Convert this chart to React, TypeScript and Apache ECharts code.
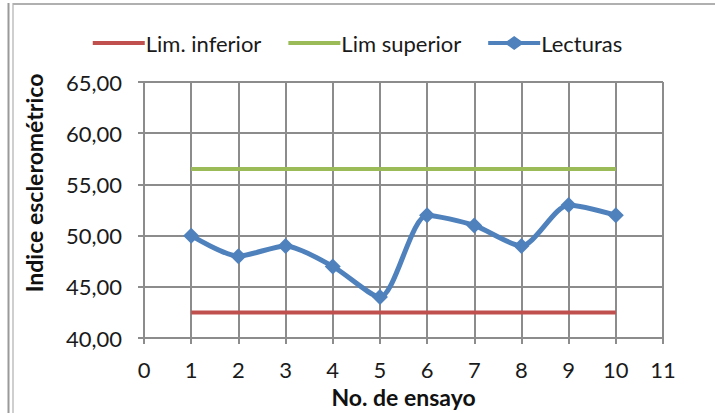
import React, { useEffect, useRef } from "react";
import * as echarts from "echarts";

const ensayos = [1, 2, 3, 4, 5, 6, 7, 8, 9, 10];
const limInferior = [42.5, 42.5, 42.5, 42.5, 42.5, 42.5, 42.5, 42.5, 42.5, 42.5];
const limSuperior = [56.5, 56.5, 56.5, 56.5, 56.5, 56.5, 56.5, 56.5, 56.5, 56.5];
const lecturas = [50, 48, 49, 47, 44, 52, 51, 49, 53, 52];
const seriesNames = ["Lim. inferior", "Lim superior", "Lecturas"];
const xTitle = "No. de ensayo";
const yTitle = "Indice esclerométrico";

const FONT = "Lato";
const LINE_ICON = "path://M0,0 M52,14 M0,5 L52,5 L52,9 L0,9 Z";
const DIAMOND_ICON =
  "path://M0,0 M52,14 M0,5 L19,5 L26,0 L33,5 L52,5 L52,9 L33,9 L26,14 L19,9 L0,9 Z";

export default function App() {
  const ref = useRef<HTMLDivElement>(null);
  useEffect(() => {
    if (!ref.current) return;
    const chart = echarts.init(ref.current, null, { renderer: "svg" });
    const pair = (vals: number[]) => ensayos.map((x, i) => [x, vals[i]]);
    chart.setOption({
      animation: false,
      backgroundColor: "#ffffff",
      textStyle: { fontFamily: FONT },
      graphic: [
        { type: "line", shape: { x1: 8.5, y1: 3, x2: 8.5, y2: 413 }, style: { stroke: "#9a9a9a", lineWidth: 2 } },
        { type: "line", shape: { x1: 13, y1: 3, x2: 13, y2: 413 }, style: { stroke: "#cfcfcf", lineWidth: 2 } },
        { type: "line", shape: { x1: 13, y1: 4, x2: 715, y2: 4 }, style: { stroke: "#b0b0b0", lineWidth: 2 } },
        {
          type: "text",
          x: 34,
          y: 183,
          rotation: Math.PI / 2,
          style: {
            text: yTitle,
            fontFamily: FONT,
            fontSize: 23,
            fontWeight: "bold",
            fill: "#111",
            align: "center",
            verticalAlign: "middle",
          },
        },
      ],
      legend: {
        top: 27,
        left: "center",
        itemWidth: 52,
        itemHeight: 14,
        itemGap: 27,
        textStyle: { fontFamily: FONT, fontSize: 22, color: "#1a1a1a", padding: [0, 0, 0, -4] },
        data: [
          { name: seriesNames[0], icon: LINE_ICON },
          { name: seriesNames[1], icon: LINE_ICON },
          { name: seriesNames[2], icon: DIAMOND_ICON },
        ],
      },
      grid: { left: 144, right: 52, top: 82, bottom: 71, containLabel: false },
      xAxis: {
        type: "value",
        min: 0,
        max: 11,
        interval: 1,
        name: xTitle,
        nameLocation: "middle",
        nameGap: 44,
        nameTextStyle: { fontFamily: FONT, fontSize: 23, fontWeight: "bold", color: "#111" },
        axisLine: { show: true, lineStyle: { color: "#8c8c8c", width: 2 } },
        axisTick: { show: true, length: 6, lineStyle: { color: "#8c8c8c", width: 2 } },
        axisLabel: { fontFamily: FONT, fontSize: 22, color: "#1a1a1a", margin: 20 },
        splitLine: { show: true, lineStyle: { color: "#8c8c8c", width: 2 } },
      },
      yAxis: {
        type: "value",
        min: 40,
        max: 65,
        interval: 5,
        axisLine: { show: true, lineStyle: { color: "#8c8c8c", width: 2 } },
        axisTick: { show: true, length: 6, lineStyle: { color: "#8c8c8c", width: 2 } },
        axisLabel: {
          fontFamily: FONT,
          fontSize: 22,
          color: "#1a1a1a",
          margin: 22,
          formatter: (v: number) => v.toFixed(2).replace(".", ","),
        },
        splitLine: { show: true, lineStyle: { color: "#8c8c8c", width: 2 } },
      },
      series: [
        {
          name: seriesNames[0],
          type: "line",
          data: pair(limInferior),
          symbol: "none",
          lineStyle: { color: "#c0504d", width: 4 },
          itemStyle: { color: "#c0504d" },
        },
        {
          name: seriesNames[1],
          type: "line",
          data: pair(limSuperior),
          symbol: "none",
          lineStyle: { color: "#9bbb59", width: 4 },
          itemStyle: { color: "#9bbb59" },
        },
        {
          name: seriesNames[2],
          type: "line",
          data: pair(lecturas),
          smooth: 0.25,
          symbol: "diamond",
          symbolSize: 16,
          lineStyle: { color: "#4f81bd", width: 5 },
          itemStyle: { color: "#4f81bd" },
        },
      ],
    });
    return () => chart.dispose();
  }, []);
  return (
    <div
      ref={ref}
      style={{ position: "fixed", left: 0, top: 0, width: 715, height: 413 }}
    />
  );
}
